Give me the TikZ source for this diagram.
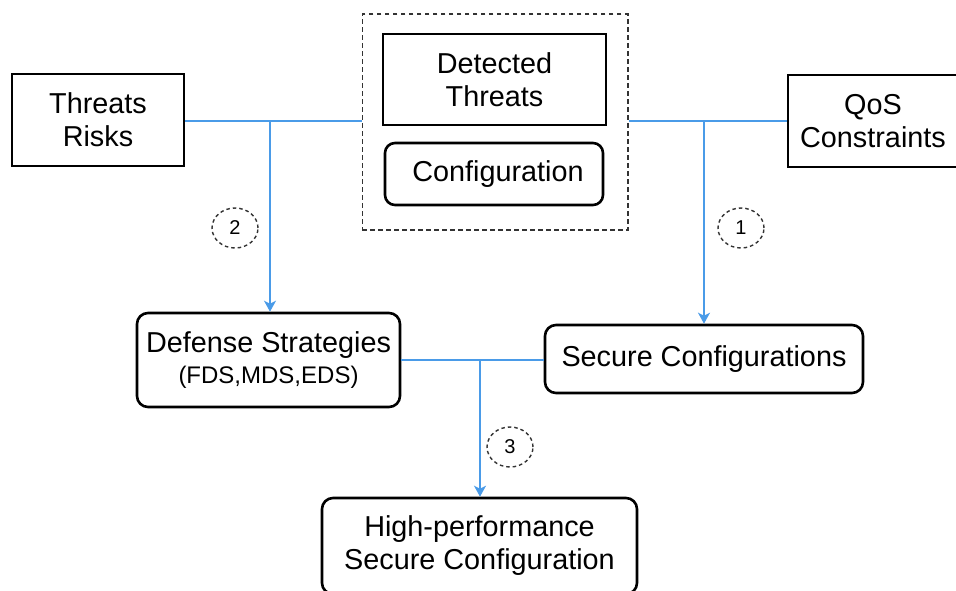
\documentclass[tikz,border=0pt]{standalone}
\usepackage{fontspec}
\setmainfont{Liberation Sans}
\usetikzlibrary{arrows.meta,shapes.geometric}
\definecolor{flow}{HTML}{4A9BE8}
\tikzset{
  box/.style={draw=black, line width=2.8pt, rectangle, inner sep=0pt, align=center,
    font=\fontsize{28.8}{33}\selectfont},
  rbox/.style={box, rounded corners=11pt, line width=2.6pt},
  grpbox/.style={draw=black!80, line width=1.5pt, dash pattern=on 4.5pt off 3.5pt, rectangle, inner sep=0pt},
  num/.style={draw=black!80, line width=1.4pt, dash pattern=on 3.5pt off 3pt, ellipse,
    minimum width=46pt, minimum height=40pt, inner sep=0pt, font=\fontsize{20}{20}\selectfont},
  link/.style={draw=flow, line width=1.6pt},
  flowarrow/.style={link, line width=2pt, -{Stealth[length=11pt,width=12pt,inset=3pt]}},
}
\begin{document}
\begin{tikzpicture}[x=1pt,y=-1pt]
\useasboundingbox (0,0) rectangle (956,590);
\clip (0,0) rectangle (956,590);
% main boxes
\node[box, minimum width=172pt, minimum height=92pt] (tr) at (98,120) {Threats\\Risks};
\node[grpbox, minimum width=265.5pt, minimum height=216pt] (grp) at (495,122) {};
\node[box, line width=2.5pt, minimum width=223pt, minimum height=91pt] (dt) at (494.5,79.5) {Detected\\Threats};
\node[rbox, minimum width=218pt, minimum height=62pt, rounded corners=10pt] (cf) at (494,174) {\hspace*{8pt}Configuration};
\node[box, minimum width=170pt, minimum height=92pt] (qos) at (873,121) {QoS\\Constraints};
\node[rbox, minimum width=263pt, minimum height=94pt] (ds) at (268.5,360)
  {Defense Strategies\\[-2pt]{\fontsize{24}{28}\selectfont(FDS,MDS,EDS)}};
\node[rbox, minimum width=318pt, minimum height=68pt] (sc) at (704,359) {Secure Configurations};
\node[rbox, minimum width=315pt, minimum height=96pt] (hp) at (479.5,546) {High-performance\\Secure Configuration};
% junctions
\coordinate (j2) at (270,121);
\coordinate (j1) at (704,121);
\coordinate (j3) at (480,360);
% connectors
\draw[link] (tr.east |- j2) -- (grp.west |- j2);
\draw[link] (grp.east |- j1) -- (qos.west |- j1);
\draw[flowarrow] (j2) -- (j2 |- ds.north);
\draw[flowarrow] (j1) -- (j1 |- sc.north);
\draw[link] (ds.east |- j3) -- (sc.west |- j3);
\draw[flowarrow] (j3) -- (j3 |- hp.north);
% step numbers
\node[num] (n1) at (741,228) {1};
\node[num] (n2) at (235,228) {2};
\node[num] (n3) at (510,447) {3};
\end{tikzpicture}
\end{document}
